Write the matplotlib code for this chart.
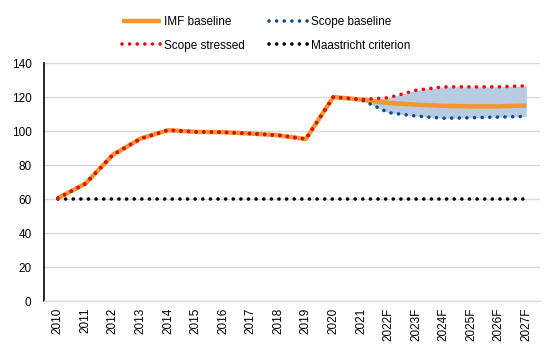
import numpy as np
import matplotlib
matplotlib.use('Agg')
import matplotlib.pyplot as plt

plt.rcParams['font.family'] = ['Liberation Sans', 'DejaVu Sans']

# category labels
years = ['2010', '2011', '2012', '2013', '2014', '2015', '2016', '2017', '2018',
         '2019', '2020', '2021', '2022F', '2023F', '2024F', '2025F', '2026F', '2027F']

# debt-to-GDP series (% of GDP)
imf_baseline = [60.5, 69.0, 86.0, 95.5, 100.5, 99.5, 99.3, 98.5, 97.5,
                95.3, 120.0, 118.5, 116.5, 115.5, 114.8, 114.5, 114.5, 115.0]
scope_baseline = [60.5, 69.0, 86.0, 95.5, 100.5, 99.5, 99.3, 98.5, 97.5,
                  95.3, 120.0, 118.5, 110.8, 108.8, 107.5, 107.8, 108.2, 108.6]
scope_stressed = [60.5, 69.0, 86.0, 95.5, 100.5, 99.5, 99.3, 98.5, 97.5,
                  95.3, 120.0, 118.5, 119.6, 124.0, 126.0, 126.0, 126.0, 126.6]
maastricht = [60] * len(years)

# first category of the shaded band
band_start = 11

x = np.arange(len(years))

fig = plt.figure(figsize=(5.5, 3.55), dpi=100)
ax = fig.add_axes([0.08, 0.152, 0.902, 0.6705])

# shaded range between scope baseline and stressed
xb = x[band_start:]
ax.fill_between(xb, np.array(scope_baseline)[band_start:], np.array(scope_stressed)[band_start:],
                color='#B7CCE2', lw=0, zorder=1)

dot = (0, (0.01, 2.1))
ax.plot(x, maastricht, color='black', lw=2.6, ls=dot, dash_capstyle='round',
        label='Maastricht criterion', zorder=2)
ax.plot(x, imf_baseline, color='#F4962E', lw=3.2, solid_capstyle='butt',
        label='IMF baseline', zorder=3)
ax.plot(x, scope_baseline, color='#0B4C8C', lw=2.6, ls=dot, dash_capstyle='round',
        label='Scope baseline', zorder=4)
ax.plot(x, scope_stressed, color='#FF0000', lw=2.6, ls=dot, dash_capstyle='round',
        label='Scope stressed', zorder=5)

ax.set_xlim(-0.5, len(years) - 0.5)
ax.set_ylim(0, 140)
ax.set_yticks(np.arange(0, 141, 20))
ax.set_xticks(x)
ax.set_xticklabels(years, rotation=90, fontsize=8.5)
ax.tick_params(axis='y', labelsize=8.5, length=0, pad=9)
ax.tick_params(axis='x', length=0, pad=5)
ax.grid(axis='y', color='#D9D9D9', lw=1)
ax.set_axisbelow(True)

for s in ['top', 'right']:
    ax.spines[s].set_visible(False)
ax.spines['left'].set_color('black')
ax.spines['left'].set_linewidth(1.2)
ax.spines['bottom'].set_color('#D9D9D9')
ax.spines['bottom'].set_linewidth(1)

h, l = ax.get_legend_handles_labels()
order = [1, 3, 2, 0]  # IMF, stressed | scope baseline, Maastricht
fig.legend([h[i] for i in order], [l[i] for i in order], ncol=2,
           loc='upper center', bbox_to_anchor=(0.484, 0.984), frameon=False,
           fontsize=8.5, handlelength=3.3, columnspacing=2.0, handletextpad=0.3,
           labelspacing=0.95)

fig.savefig('out.png', dpi=100)
